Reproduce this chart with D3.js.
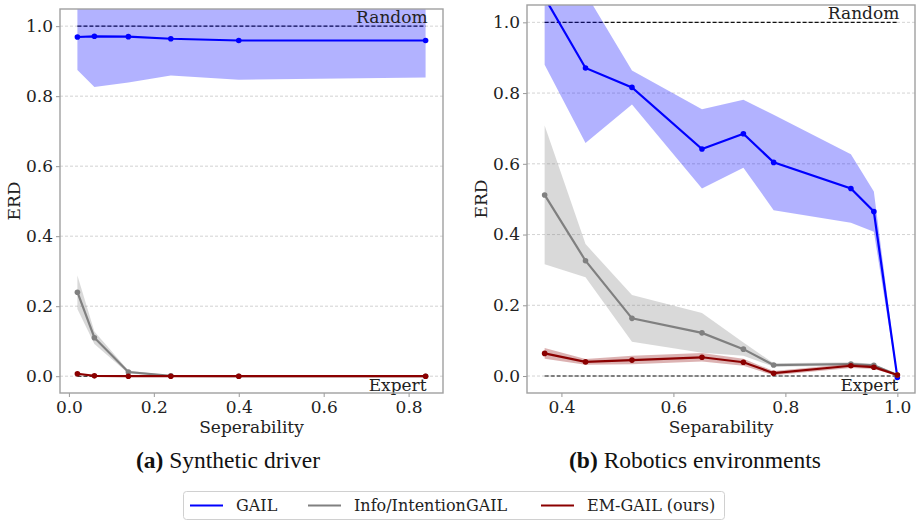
<!DOCTYPE html>
<html>
<head>
<meta charset="utf-8">
<script src="https://cdn.jsdelivr.net/npm/d3@7"></script>
<style>
  body { margin: 0; background: #fff; }
  .wrapper svg { display: block; font-family: "DejaVu Serif", serif; }
  .tick text { font-family: "DejaVu Serif", serif; font-size: 17px; fill: #222; }
  .caption { font-family: "Liberation Serif", serif; font-size: 23.5px; fill: #111; }
</style>
</head>
<body>
<div id="wrapper" class="wrapper"></div>
<script>
// ---- data ----
// (a) synthetic driver
const sepA = [0.02, 0.06, 0.14, 0.24, 0.40, 0.84]
const gailA = [0.969, 0.971, 0.970, 0.964, 0.959, 0.959]
const gailStdA = [0.094, 0.145, 0.131, 0.105, 0.112, 0.106]
const infoA = [0.240, 0.110, 0.012, 0.001, 0.0, 0.0]
const infoStdA = [0.048, 0.018, 0.004, 0.001, 0.0, 0.0]
const emA = [0.007, 0.001, 0.0, 0.0, 0.0, 0.0]
const emStdA = [0.002, 0.001, 0.0, 0.0, 0.0, 0.0]

// (b) robotics environments
const sepB = [0.370, 0.443, 0.526, 0.651, 0.725, 0.779, 0.917, 0.958, 1.0]
const gailB = [1.07, 0.871, 0.816, 0.642, 0.685, 0.604, 0.530, 0.465, -0.004]
const gailStdB = [0.19, 0.212, 0.048, 0.112, 0.096, 0.135, 0.097, 0.057, 0.005]
const infoB = [0.512, 0.326, 0.163, 0.122, 0.076, 0.031, 0.034, 0.030, 0.003]
const infoStdB = [0.196, 0.047, 0.066, 0.056, 0.019, 0.005, 0.005, 0.005, 0.002]
const emB = [0.064, 0.040, 0.045, 0.053, 0.039, 0.008, 0.029, 0.025, 0.003]
const emStdB = [0.015, 0.008, 0.012, 0.012, 0.010, 0.006, 0.006, 0.005, 0.002]

const yTicks = [0.0, 0.2, 0.4, 0.6, 0.8, 1.0]
const xTicksA = [0.0, 0.2, 0.4, 0.6, 0.8]
const xTicksB = [0.4, 0.6, 0.8, 1.0]

const seriesNames = ["GAIL", "Info/IntentionGAIL", "EM-GAIL (ours)"]
const seriesColors = ["#0000ff", "#808080", "#8b0000"]
const captions = [["(a)", " Synthetic driver"], ["(b)", " Robotics environments"]]
const xLabels = ["Seperability", "Separability"]

const width = 917
const height = 521

const svg = d3.select("#wrapper")
  .append("svg")
    .attr("width", width)
    .attr("height", height)

function drawPanel(id, box, xs, series, xTicks, xLabel) {
  const xScale = d3.scaleLinear()
    .domain([xs[0] - 0.05 * (xs[xs.length - 1] - xs[0]), xs[xs.length - 1] + 0.05 * (xs[xs.length - 1] - xs[0])])
    .range([box.left, box.right])
  const yScale = d3.scaleLinear()
    .domain([-0.048, 1.049])
    .range([box.bottom, box.top])

  const g = svg.append("g")

  g.append("clipPath")
    .attr("id", "clip-" + id)
    .append("rect")
      .attr("x", box.left)
      .attr("y", box.top)
      .attr("width", box.right - box.left)
      .attr("height", box.bottom - box.top)

  // grid
  g.append("g")
    .selectAll("line")
    .data(yTicks)
    .join("line")
      .attr("x1", box.left)
      .attr("x2", box.right)
      .attr("y1", d => yScale(d))
      .attr("y2", d => yScale(d))
      .attr("stroke", "#c8c8c8")
      .attr("stroke-width", 0.8)
      .attr("stroke-dasharray", "3,2")

  const plot = g.append("g").attr("clip-path", `url(#clip-${id})`)

  // random / expert reference lines
  plot.selectAll(".ref")
    .data([1, 0])
    .join("line")
      .attr("class", "ref")
      .attr("x1", xScale(xs[0]))
      .attr("x2", xScale(xs[xs.length - 1]))
      .attr("y1", d => yScale(d))
      .attr("y2", d => yScale(d))
      .attr("stroke", "#111")
      .attr("stroke-width", 1.1)
      .attr("stroke-dasharray", "4,2")

  const area = d3.area()
    .x((d, i) => xScale(xs[i]))
    .y0(d => yScale(d[0] - d[1]))
    .y1(d => yScale(d[0] + d[1]))
  const line = d3.line()
    .x((d, i) => xScale(xs[i]))
    .y(d => yScale(d))

  series.forEach((s, k) => {
    const pairs = s.mean.map((m, i) => [m, s.std[i]])
    plot.append("path")
      .attr("d", area(pairs))
      .attr("fill", seriesColors[k])
      .attr("fill-opacity", 0.3)
    plot.append("path")
      .attr("d", line(s.mean))
      .attr("fill", "none")
      .attr("stroke", seriesColors[k])
      .attr("stroke-width", 2.2)
    plot.append("g")
      .selectAll("circle")
      .data(s.mean)
      .join("circle")
        .attr("cx", (d, i) => xScale(xs[i]))
        .attr("cy", d => yScale(d))
        .attr("r", 2.8)
        .attr("fill", seriesColors[k])
  })

  // reference labels
  g.append("text")
    .attr("x", xScale(xs[xs.length - 1]) + 2)
    .attr("y", yScale(1) - 3)
    .attr("text-anchor", "end")
    .attr("font-size", 17)
    .attr("fill", "#222")
    .text("Random")
  g.append("text")
    .attr("x", xScale(xs[xs.length - 1]) + 1)
    .attr("y", yScale(0) + 15)
    .attr("text-anchor", "end")
    .attr("font-size", 17)
    .attr("fill", "#222")
    .text("Expert")

  // axes
  const xAxis = g.append("g")
    .attr("transform", `translate(0, ${box.bottom})`)
    .call(d3.axisBottom(xScale).tickValues(xTicks).tickFormat(d3.format(".1f")).tickSize(4).tickPadding(3.5))
  const yAxis = g.append("g")
    .attr("transform", `translate(${box.left}, 0)`)
    .call(d3.axisLeft(yScale).tickValues(yTicks).tickFormat(d3.format(".1f")).tickSize(4).tickPadding(3))
  xAxis.select(".domain").remove()
  yAxis.select(".domain").remove()
  g.selectAll(".tick line").attr("stroke", "#999")

  g.append("rect")
    .attr("x", box.left)
    .attr("y", box.top)
    .attr("width", box.right - box.left)
    .attr("height", box.bottom - box.top)
    .attr("fill", "none")
    .attr("stroke", "#a0a0a0")
    .attr("stroke-width", 1.4)

  g.append("text")
    .attr("x", (box.left + box.right) / 2)
    .attr("y", box.bottom + 39.5)
    .attr("text-anchor", "middle")
    .attr("font-size", 17)
    .attr("fill", "#222")
    .text(xLabel)

  g.append("text")
    .attr("transform", `translate(${box.left - 40}, ${(box.top + box.bottom) / 2}) rotate(-90)`)
    .attr("text-anchor", "middle")
    .attr("font-size", 17)
    .attr("fill", "#222")
    .text("ERD")
}

drawPanel("a", {left: 60, right: 443, top: 9, bottom: 393}, sepA, [
  {mean: gailA, std: gailStdA},
  {mean: infoA, std: infoStdA},
  {mean: emA, std: emStdA},
], xTicksA, xLabels[0])

drawPanel("b", {left: 527, right: 915, top: 5, bottom: 393}, sepB, [
  {mean: gailB, std: gailStdB},
  {mean: infoB, std: infoStdB},
  {mean: emB, std: emStdB},
], xTicksB, xLabels[1])

// captions
const captionX = [228, 695]
captions.forEach((c, i) => {
  const t = svg.append("text")
    .attr("class", "caption")
    .attr("x", captionX[i])
    .attr("y", 468)
    .attr("text-anchor", "middle")
  t.append("tspan").attr("font-weight", "bold").text(c[0])
  t.append("tspan").text(c[1])
})

// legend
const legend = svg.append("g")
legend.append("rect")
  .attr("x", 183.5)
  .attr("y", 491.5)
  .attr("width", 541)
  .attr("height", 28)
  .attr("rx", 3)
  .attr("fill", "#fff")
  .attr("stroke", "#d0d0d0")

const legendX = [190, 308, 541]
seriesNames.forEach((name, i) => {
  legend.append("line")
    .attr("x1", legendX[i])
    .attr("x2", legendX[i] + 33)
    .attr("y1", 505.5)
    .attr("y2", 505.5)
    .attr("stroke", seriesColors[i])
    .attr("stroke-width", 2.2)
  legend.append("text")
    .attr("x", legendX[i] + 46)
    .attr("y", 511)
    .attr("font-size", 16)
    .attr("fill", "#222")
    .text(name)
})
</script>
</body>
</html>
